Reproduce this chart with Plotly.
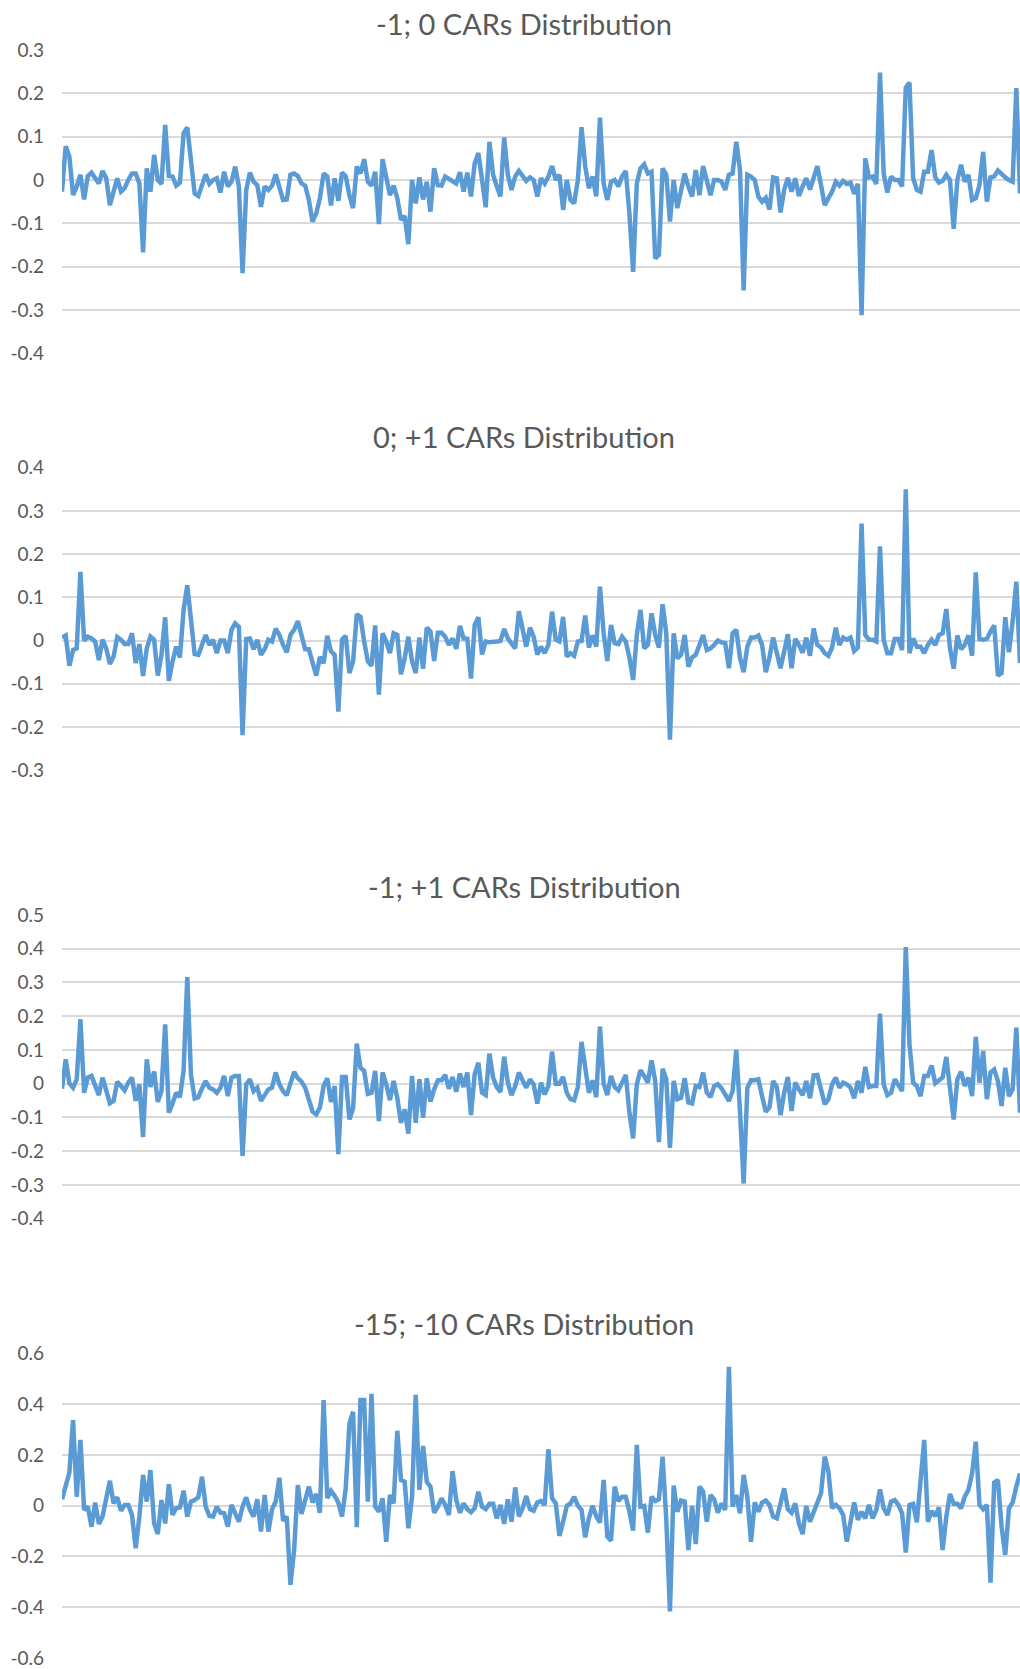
import plotly.graph_objects as go

# ---------------- data ----------------
titles = ["-1; 0 CARs Distribution", "0; +1 CARs Distribution",
          "-1; +1 CARs Distribution", "-15; -10 CARs Distribution"]

car_m1_0 = [
    -0.027, 0.078, 0.054, -0.035, -0.015, 0.012, -0.045, 0.009, 0.017, 0.004,
    -0.008, 0.021, 0.004, -0.058, -0.031, 0.004, -0.027, -0.019, 0, 0.015,
    0.015, -0.008, -0.167, 0.027, -0.027, 0.058, 0, -0.009, 0.127, 0.009,
    0.008, -0.013, -0.006, 0.108, 0.121, 0.046, -0.031, -0.037, -0.008, 0.013,
    -0.009, 0, 0.004, -0.029, 0.019, -0.015, -0.004, 0.031, -0.015, -0.215,
    -0.023, 0.017, -0.004, -0.012, -0.062, -0.015, -0.023, -0.013, 0.013, -0.015,
    -0.046, -0.045, 0.012, 0.015, 0.009, -0.008, -0.013, -0.046, -0.096, -0.077,
    -0.042, 0.015, 0.008, -0.059, 0.004, -0.048, 0.017, 0.009, -0.035, -0.065,
    0.031, 0.015, 0.048, -0.004, -0.013, 0.019, -0.102, 0.048,
    0.008, -0.035, -0.013, -0.042, -0.092, -0.083, -0.148, 0, -0.054, 0.006,
    -0.045, -0.004, -0.073, 0.027, -0.012, -0.013, 0.008, 0.002, -0.004, -0.008,
    0.018, -0.027, 0.017, -0.038, 0.038, 0.062, 0, -0.063, 0.088, 0.012,
    -0.015, -0.038, 0.098, 0.012, -0.023, 0.008, 0.021, 0.008, -0.002, 0.006,
    0, -0.038, 0.004, -0.008, 0.008, 0.032, 0, 0.012, -0.069, 0,
    -0.046, -0.054, 0, 0.122, 0.031, -0.019, 0.008, -0.038, 0.144, -0.008,
    -0.046, -0.004, 0, -0.015, 0.008, 0.021, -0.077, -0.212, -0.008, 0.027,
    0.036, 0.015, 0.019, -0.181, -0.173, 0.027, 0.012, -0.096, 0, -0.065,
    -0.023, 0.015, -0.015, -0.038, 0.023, -0.035, 0.032,
    0, -0.035, 0, 0, -0.004, -0.023, 0.012, 0.015, 0.088, 0.023,
    -0.255, 0.012, 0.008, 0, -0.038, -0.05, -0.041, -0.068, 0.006, 0.004,
    -0.075, -0.023, 0.005, -0.027, 0.004, -0.037, -0.015, 0.004, -0.022, 0.002,
    0.032, -0.012, -0.058, -0.042, -0.027, -0.004, -0.013, -0.002, -0.009, -0.006,
    -0.032, -0.009, -0.312, 0.05, 0.006, 0.008, -0.009, 0.248, 0.015, -0.029,
    0.008, 0, 0, -0.015, 0.213, 0.225, 0.004, -0.023, -0.027, 0.019,
    0.019, 0.069, 0.006, -0.006, -0.002, 0.012, 0, -0.113, 0, 0.035,
    -0.004, 0.012, -0.046, -0.042, -0.012, 0.065, -0.05, 0.006, 0.008, 0.022,
    0.012, 0.006, 0, -0.004, 0.212, -0.031,
]

car_0_p1 = [
    0.007, 0.012, -0.058, -0.022, -0.018, 0.159, 0, 0.009, 0.005, -0.002,
    -0.045, 0.002, -0.018, -0.054, -0.037, 0.008, 0.002, -0.008, -0.008, 0.017,
    -0.052, -0.008, -0.082, -0.018, 0.009, 0.002, -0.081, -0.033, 0.054, -0.093,
    -0.048, -0.014, -0.039, 0.071, 0.128, 0.059, -0.031, -0.033, -0.006, 0.013,
    -0.01, 0.002, -0.029, 0, 0, -0.029, 0.025, 0.04, 0.032, -0.219,
    0.004, 0.005, -0.02, 0.002, -0.033, -0.02, 0.002, -0.002, 0.028, 0.013,
    -0.01, -0.027, 0.013, 0.025, 0.045, 0.013, -0.02, -0.02, -0.048, -0.081,
    -0.038, -0.052, 0.011, -0.025, -0.033, -0.164, 0.002, 0.011, -0.075, -0.048,
    0.061, 0.055, -0.002, -0.048, -0.058, 0.035, -0.125, 0.017,
    -0.002, -0.029, 0.017, 0.013, -0.078, -0.041, 0.009, -0.048, -0.075, 0.007,
    -0.065, 0.03, 0.021, -0.047, 0.018, 0.018, 0.009, -0.01, 0.005, -0.019,
    0.034, 0.005, 0.004, -0.088, 0.036, 0.054, -0.032, -0.002, -0.004, -0.002,
    -0.002, -0.001, 0.027, 0.005, -0.006, -0.018, 0.068, 0.025, -0.014, 0.03,
    0.009, -0.032, -0.014, -0.029, -0.01, 0.067, 0.002, -0.002, 0.055, -0.037,
    -0.029, -0.035, -0.002, -0.001, 0.058, -0.016, 0.012, -0.014, 0.125, 0.017,
    -0.047, 0.036, -0.006, -0.008, 0.009, -0.002, -0.039, -0.091, 0.013, 0.071,
    -0.018, -0.01, 0.063, 0.013, -0.016, 0.084, 0.017, -0.229, 0.017, -0.041,
    -0.033, 0.013, -0.06, -0.039, -0.033, -0.01, 0.013,
    -0.022, -0.018, -0.01, 0, -0.004, -0.006, -0.064, 0.017, 0.025, -0.039,
    -0.073, -0.014, 0.007, 0.007, 0.012, -0.01, -0.073, -0.039, 0.007, -0.025,
    -0.064, -0.025, 0.015, -0.064, 0.004, -0.01, -0.028, 0.007, -0.035, 0.028,
    -0.01, -0.016, -0.029, -0.035, -0.016, 0.03, -0.01, 0.007, 0.002, 0.007,
    -0.024, -0.016, 0.271, 0.013, 0.002, 0.002, -0.002, 0.218, 0.002, -0.029,
    -0.029, 0.004, 0.004, -0.022, 0.35, -0.029, 0.005, -0.014, -0.014, -0.029,
    -0.01, 0.002, -0.01, 0.013, 0.017, 0.073, -0.018, -0.065, 0.012, -0.02,
    -0.01, 0.012, -0.035, 0.158, 0.004, 0.002, 0.004, 0.021, 0.035, -0.081,
    -0.075, 0.054, -0.027, 0.044, 0.136, -0.052,
]

car_m1_p1 = [
    -0.015, 0.072, 0.001, -0.012, 0.013, 0.191, -0.027, 0.018, 0.023, -0.002,
    -0.034, 0.018, -0.022, -0.058, -0.051, 0.006, -0.007, -0.02, 0.003, 0.018,
    -0.051, -0.002, -0.158, 0.072, -0.01, 0.036, -0.054, -0.022, 0.176, -0.086,
    -0.059, -0.027, -0.04, 0.038, 0.316, 0.026, -0.044, -0.04, -0.014, 0.008,
    -0.012, -0.017, -0.027, -0.012, 0.023, -0.037, 0.018, 0.023, 0.023, -0.214,
    -0.002, 0.013, -0.022, -0.012, -0.051, -0.032, -0.017, -0.012, 0.033, -0.002,
    -0.022, -0.034, 0.003, 0.035, 0.016, 0.006, -0.012, -0.046, -0.083, -0.091,
    -0.071, -0.007, 0.016, -0.054, -0.007, -0.209, 0.02, 0.02, -0.106, -0.073,
    0.119, 0.047, 0.038, -0.03, -0.027, 0.038, -0.111, 0.033,
    -0.002, -0.049, 0.008, -0.042, -0.116, -0.076, -0.148, 0.023, -0.116, 0.013,
    -0.101, 0.016, -0.053, -0.017, 0.01, 0.01, 0.026, -0.015, 0.02, -0.024,
    0.03, -0.01, 0.033, -0.093, 0.028, 0.062, -0.027, -0.034, 0.089, 0.018,
    -0.01, -0.025, 0.08, 0.003, -0.034, -0.007, 0.033, 0.01, -0.012, 0.013,
    -0.002, -0.059, 0.003, -0.032, -0.007, 0.095, 0, 0, 0.02, -0.027,
    -0.046, -0.049, -0.01, 0.124, 0.047, -0.027, 0.01, -0.04, 0.169, 0,
    -0.034, 0.023, -0.01, -0.02, 0.003, 0.026, -0.086, -0.162, -0.002, 0.04,
    0.023, 0.003, 0.069, 0.008, -0.173, 0.044, 0.013, -0.19, 0.008, -0.046,
    -0.042, 0.016, -0.056, -0.059, -0.007, -0.01, 0.033,
    -0.027, -0.04, -0.007, -0.002, -0.014, -0.032, -0.051, -0.022, 0.1, -0.081,
    -0.296, -0.012, 0.01, 0.01, 0.013, -0.037, -0.083, -0.071, 0.008, -0.01,
    -0.093, -0.027, 0.02, -0.081, 0.003, -0.017, -0.034, 0.008, -0.043, 0.025,
    0.026, -0.017, -0.061, -0.046, -0.002, 0.018, -0.012, 0.003, -0.002, -0.012,
    -0.043, 0.008, -0.027, 0.05, -0.01, -0.007, -0.007, 0.208, -0.002, -0.034,
    -0.027, 0.013, -0.007, -0.022, 0.405, 0.117, 0.003, -0.007, -0.037, 0.023,
    0.023, 0.054, 0.001, 0.008, 0.018, 0.079, -0.017, -0.106, 0.013, 0.035,
    -0.007, 0.018, -0.037, 0.139, 0.003, 0.097, -0.046, 0.033, 0.042, 0.008,
    -0.066, 0.047, -0.037, -0.017, 0.166, -0.086,
]

car_m15_m10 = [
    0.025, 0.075, 0.13, 0.337, 0.035, 0.259, -0.017, -0.004, -0.083, 0.012,
    -0.072, -0.043, 0.022, 0.098, 0.009, 0.033, -0.02, 0.003, 0.003, -0.037,
    -0.168, -0.043, 0.121, 0.016, 0.14, -0.07, -0.112, 0.022, -0.07, 0.084,
    -0.037, -0.01, -0.007, 0.059, -0.043, 0.016, 0.022, 0.033, 0.114, -0.004,
    -0.041, -0.043, -0.004, -0.028, -0.03, -0.083, 0.003, -0.03, -0.063, -0.004,
    0.033, -0.017, -0.043, 0.025, -0.102, 0.042, -0.102, -0.014, 0.016, 0.11,
    -0.06, -0.043, -0.312, -0.175, 0.081, -0.033, 0.029, 0.075, 0.012, 0.046,
    -0.028, 0.416, 0.029, 0.058, 0.038, 0.012, -0.043, 0.068, 0.322, 0.37,
    -0.085, 0.416, 0.416, 0.016, 0.44, -0.004, -0.024, 0.029, -0.142,
    0.042, 0.009, 0.295, 0.101, 0.094, -0.089, 0.035, 0.436, 0.062, 0.235,
    0.094, 0.075, -0.028, -0.004, 0.029, 0.003, -0.037, 0.136, 0.022, -0.028,
    0.009, -0.014, -0.026, -0.01, 0.055, -0.004, -0.014, 0.007, 0.007, -0.05,
    0.003, -0.072, 0.025, -0.063, 0.072, -0.043, -0.01, 0.038, -0.014, -0.02,
    0.013, 0.018, 0.003, 0.222, 0.029, 0.009, -0.119, -0.063, -0.001, 0.009,
    0.035, 0, -0.017, -0.125, -0.05, 0, -0.043, -0.067, 0.101, -0.122,
    -0.138, 0.075, 0.018, 0.035, 0.035, -0.024, -0.098, 0.239, -0.004, -0.001,
    -0.106, 0.035, 0.018, 0.025, 0.193, -0.056, -0.417, 0.079, -0.024, 0.02,
    0.016, -0.175, -0.001, -0.151, 0.075, 0.055, -0.063,
    0.042, 0.025, -0.028, 0.009, -0.017, 0.547, -0.004, 0.042, -0.03, 0.121,
    0.035, -0.142, 0.013, -0.024, 0.012, 0.02, 0.003, -0.043, -0.05, 0.012,
    0.068, -0.014, -0.028, 0.009, -0.07, -0.112, -0.001, -0.063, -0.024, 0.012,
    0.049, 0.193, 0.134, -0.01, 0.003, -0.01, -0.037, -0.142, -0.063, 0.013,
    -0.056, -0.024, -0.05, 0.003, -0.05, -0.017, 0.064, -0.01, -0.037, 0.016,
    0.022, 0.003, -0.03, -0.185, 0.003, 0.007, -0.066, 0.104, 0.259, -0.063,
    -0.021, -0.041, -0.007, -0.175, -0.043, 0.046, 0.007, 0.007, -0.01, 0.035,
    0.062, 0.127, 0.252, 0.003, -0.014, 0.003, -0.303, 0.091, 0.101, -0.083,
    -0.194, -0.01, 0.012, 0.075, 0.127,
]

series = [car_m1_0, car_0_p1, car_m1_p1, car_m15_m10]

ticks_p1 = [0.3, 0.2, 0.1, 0, -0.1, -0.2, -0.3, -0.4]
ticks_p2 = [0.4, 0.3, 0.2, 0.1, 0, -0.1, -0.2, -0.3]
ticks_p3 = [0.5, 0.4, 0.3, 0.2, 0.1, 0, -0.1, -0.2, -0.3, -0.4]
ticks_p4 = [0.6, 0.4, 0.2, 0, -0.2, -0.4, -0.6]
tick_labels_p1 = ["0.3", "0.2", "0.1", "0", "-0.1", "-0.2", "-0.3", "-0.4"]
tick_labels_p2 = ["0.4", "0.3", "0.2", "0.1", "0", "-0.1", "-0.2", "-0.3"]
tick_labels_p3 = ["0.5", "0.4", "0.3", "0.2", "0.1", "0", "-0.1", "-0.2", "-0.3", "-0.4"]
tick_labels_p4 = ["0.6", "0.4", "0.2", "0", "-0.2", "-0.4", "-0.6"]
tick_sets = [(ticks_p1, tick_labels_p1), (ticks_p2, tick_labels_p2),
             (ticks_p3, tick_labels_p3), (ticks_p4, tick_labels_p4)]

# ---------------- layout (pixel geometry) ----------------
W, H = 1020, 1669
PLOT_LEFT = 62
panel_geom = [  # top px, bottom px, title centre px
    (50.0, 353.3, 23.4),
    (467.7, 770.3, 436.5),
    (915.0, 1218.6, 887.0),
    (1353.3, 1658.0, 1323.4),
]

FONT = "Lato"
TEXT_COLOR = "#595959"
LINE_COLOR = "#5B9BD5"
GRID_COLOR = "#D9D9D9"

fig = go.Figure()
layout = dict(
    width=W, height=H,
    margin=dict(l=0, r=0, t=0, b=0, pad=0, autoexpand=False),
    paper_bgcolor="white", plot_bgcolor="white",
    showlegend=False,
    annotations=[],
)

for i, (vals, (tv, tt), (top, bot, ty)) in enumerate(zip(series, tick_sets, panel_geom)):
    n = i + 1
    xa = "x" if n == 1 else f"x{n}"
    ya = "y" if n == 1 else f"y{n}"
    fig.add_trace(go.Scatter(
        x=list(range(len(vals))), y=vals, mode="lines",
        line=dict(color=LINE_COLOR, width=4.5),
        xaxis=xa, yaxis=ya, hoverinfo="skip",
    ))
    xkey = "xaxis" if n == 1 else f"xaxis{n}"
    ykey = "yaxis" if n == 1 else f"yaxis{n}"
    layout[xkey] = dict(
        domain=[PLOT_LEFT / W, 1.0], range=[0, len(vals) - 1],
        visible=False, anchor=ya, automargin=False,
    )
    layout[ykey] = dict(
        domain=[1 - bot / H, 1 - top / H], range=[min(tv), max(tv)],
        anchor=xa, tickmode="array", tickvals=tv, ticktext=tt,
        showgrid=True, gridcolor=GRID_COLOR, gridwidth=1.5,
        zeroline=False, showline=False, ticks="", automargin=False,
        ticklabelstandoff=17,
        tickfont=dict(family=FONT, size=19, color=TEXT_COLOR),
    )
    layout["annotations"].append(dict(
        text=titles[i], xref="paper", yref="paper",
        x=524 / W, y=1 - ty / H, xanchor="center", yanchor="middle",
        showarrow=False, font=dict(family=FONT, size=29, color=TEXT_COLOR),
    ))

fig.update_layout(**layout)
fig.write_html("out.html")
